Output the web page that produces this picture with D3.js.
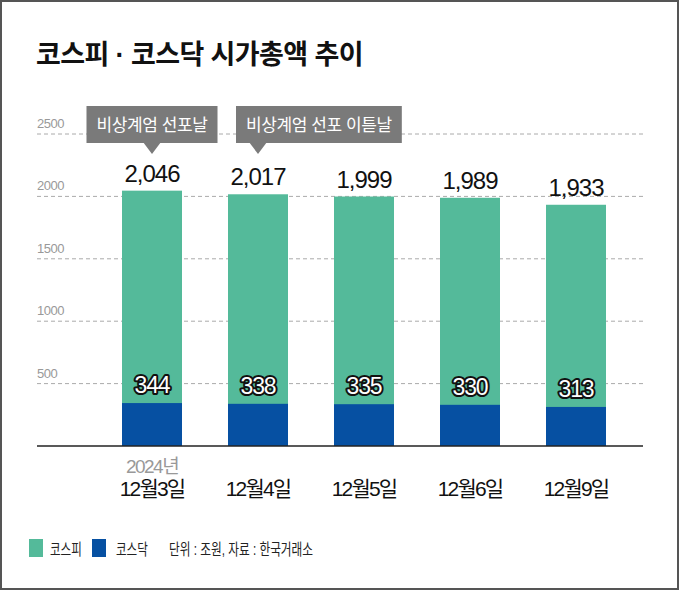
<!DOCTYPE html>
<html>
<head>
<meta charset="utf-8">
<script src="https://cdn.jsdelivr.net/npm/d3@7"></script>
<style>
  body { margin: 0; background: #fff; }
  text { font-family: "Liberation Sans", "Noto Sans CJK KR", sans-serif; }
</style>
</head>
<body>
<div id="chart"></div>
<script>
// 코스피·코스닥 시가총액 (조원)
var dates = ["12월3일", "12월4일", "12월5일", "12월6일", "12월9일"];
var kospi = [2046, 2017, 1999, 1989, 1933];
var kosdaq = [344, 338, 335, 330, 313];
var yTicks = [500, 1000, 1500, 2000, 2500];
var notes = ["비상계엄 선포날", "비상계엄 선포 이튿날", null, null, null];
var noteAlign = ["middle", "start", null, null, null];

var width = 680, height = 591;
var green = "#54ba9a", blue = "#0650a2";

var svg = d3.select("#chart").append("svg")
    .attr("width", width)
    .attr("height", height);

// outer frame
svg.append("rect")
    .attr("x", 1).attr("y", 1)
    .attr("width", width - 3).attr("height", height - 3)
    .attr("fill", "none")
    .attr("stroke", "#555")
    .attr("stroke-width", 2);

svg.append("text")
    .text("코스피 · 코스닥 시가총액 추이")
    .attr("x", 36)
    .attr("y", 64)
    .style("font-size", "27px")
    .style("font-weight", "bold")
    .style("letter-spacing", "-0.6px")
    .attr("fill", "#111");

var x = d3.scaleBand()
    .domain(dates)
    .range([99, 629])
    .paddingInner(0.434)
    .paddingOuter(0.217);

var y = d3.scaleLinear()
    .domain([0, 2500])
    .range([446, 134]);

// gridlines
var grid = svg.append("g");
grid.selectAll("line")
    .data(yTicks)
    .enter().append("line")
        .attr("x1", 37)
        .attr("x2", 643)
        .attr("y1", function(d) { return y(d); })
        .attr("y2", function(d) { return y(d); })
        .attr("stroke", "#aaa")
        .attr("stroke-width", 1)
        .attr("stroke-dasharray", "4,3");

grid.selectAll("text")
    .data(yTicks)
    .enter().append("text")
        .text(function(d) { return d; })
        .attr("x", 37)
        .attr("y", function(d) { return y(d) - 6; })
        .style("font-size", "13px")
        .style("letter-spacing", "-0.5px")
        .attr("fill", "#999");

var bars = svg.selectAll("g.bar")
    .data(dates)
    .enter().append("g")
        .attr("class", "bar")
        .attr("transform", function(d) {
            return "translate(" + x(d) + ",0)";
        });

bars.append("rect")
    .attr("y", function(d, i) { return y(kospi[i]); })
    .attr("width", x.bandwidth())
    .attr("height", function(d, i) { return y(0) - y(kospi[i]); })
    .attr("fill", green);

bars.append("rect")
    .attr("y", function(d, i) { return y(kosdaq[i]); })
    .attr("width", x.bandwidth())
    .attr("height", function(d, i) { return y(0) - y(kosdaq[i]); })
    .attr("fill", blue);

bars.append("text")
    .text(function(d, i) { return d3.format(",")(kospi[i]); })
    .attr("x", x.bandwidth() / 2)
    .attr("y", function(d, i) { return y(kospi[i]) - 9; })
    .attr("text-anchor", "middle")
    .style("font-size", "24px")
    .style("letter-spacing", "-1px")
    .attr("fill", "#111");

bars.append("text")
    .text(function(d, i) { return kosdaq[i]; })
    .attr("x", x.bandwidth() / 2)
    .attr("y", function(d, i) { return y(kosdaq[i]) - 10; })
    .attr("text-anchor", "middle")
    .style("font-size", "23px")
    .style("letter-spacing", "-1.2px")
    .style("paint-order", "stroke")
    .attr("fill", "#fff")
    .attr("stroke", "#111")
    .attr("stroke-width", 4)
    .attr("stroke-linejoin", "round");

// x axis
svg.append("line")
    .attr("x1", 37).attr("x2", 643)
    .attr("y1", y(0)).attr("y2", y(0))
    .attr("stroke", "#222")
    .attr("stroke-width", 1.5);

bars.append("text")
    .text(function(d) { return d; })
    .attr("x", x.bandwidth() / 2)
    .attr("y", 496)
    .attr("text-anchor", "middle")
    .style("font-size", "21px")
    .style("letter-spacing", "-1.8px")
    .attr("fill", "#111");

svg.append("text")
    .text("2024년")
    .attr("x", x(dates[0]) + x.bandwidth() / 2)
    .attr("y", 473)
    .attr("text-anchor", "middle")
    .style("font-size", "19px")
    .style("letter-spacing", "-1.5px")
    .attr("fill", "#999");

// callouts
var noteData = [];
notes.forEach(function(n, i) {
    if (n) noteData.push({ text: n, date: dates[i], align: noteAlign[i] });
});

var callouts = svg.selectAll("g.note")
    .data(noteData)
    .enter().append("g")
        .attr("class", "note")
        .attr("transform", function(d) {
            return "translate(" + (x(d.date) + x.bandwidth() / 2) + ",0)";
        });

callouts.each(function(d) {
    var g = d3.select(this);
    var box = g.append("rect").attr("fill", "#7a7a7a");
    var t = g.append("text")
        .text(d.text)
        .attr("y", 131)
        .style("font-size", "17px")
        .style("letter-spacing", "-0.4px")
        .attr("fill", "#fff");
    var w = t.node().getComputedTextLength() + 20;
    var left = d.align === "middle" ? -w / 2 : -22;
    t.attr("x", left + 10);
    box.attr("x", left).attr("y", 106)
        .attr("width", w).attr("height", 37);
    g.append("path")
        .attr("d", "M-9,142L9,142L0,154Z")
        .attr("fill", "#7a7a7a");
});

// legend (condensed type, as in the print original)
var legendItems = [["코스피", green], ["코스닥", blue]];
var legend = svg.selectAll("g.legend")
    .data(legendItems)
    .enter().append("g")
        .attr("class", "legend")
        .attr("transform", function(d, i) {
            return "translate(" + (29 + 63 * i) + ",539)";
        });

legend.append("rect")
    .attr("width", 14)
    .attr("height", 18)
    .attr("fill", function(d) { return d[1]; });

legend.append("text")
    .text(function(d) { return d[0]; })
    .attr("transform", function(d, i) {
        return "translate(" + (i === 0 ? 21 : 24) + ",16) scale(0.72,1)";
    })
    .style("font-size", "16px")
    .attr("fill", "#222");

svg.append("text")
    .text("단위 : 조원, 자료 : 한국거래소")
    .attr("transform", "translate(169,555) scale(0.73,1)")
    .style("font-size", "16px")
    .attr("fill", "#222");
</script>
</body>
</html>
